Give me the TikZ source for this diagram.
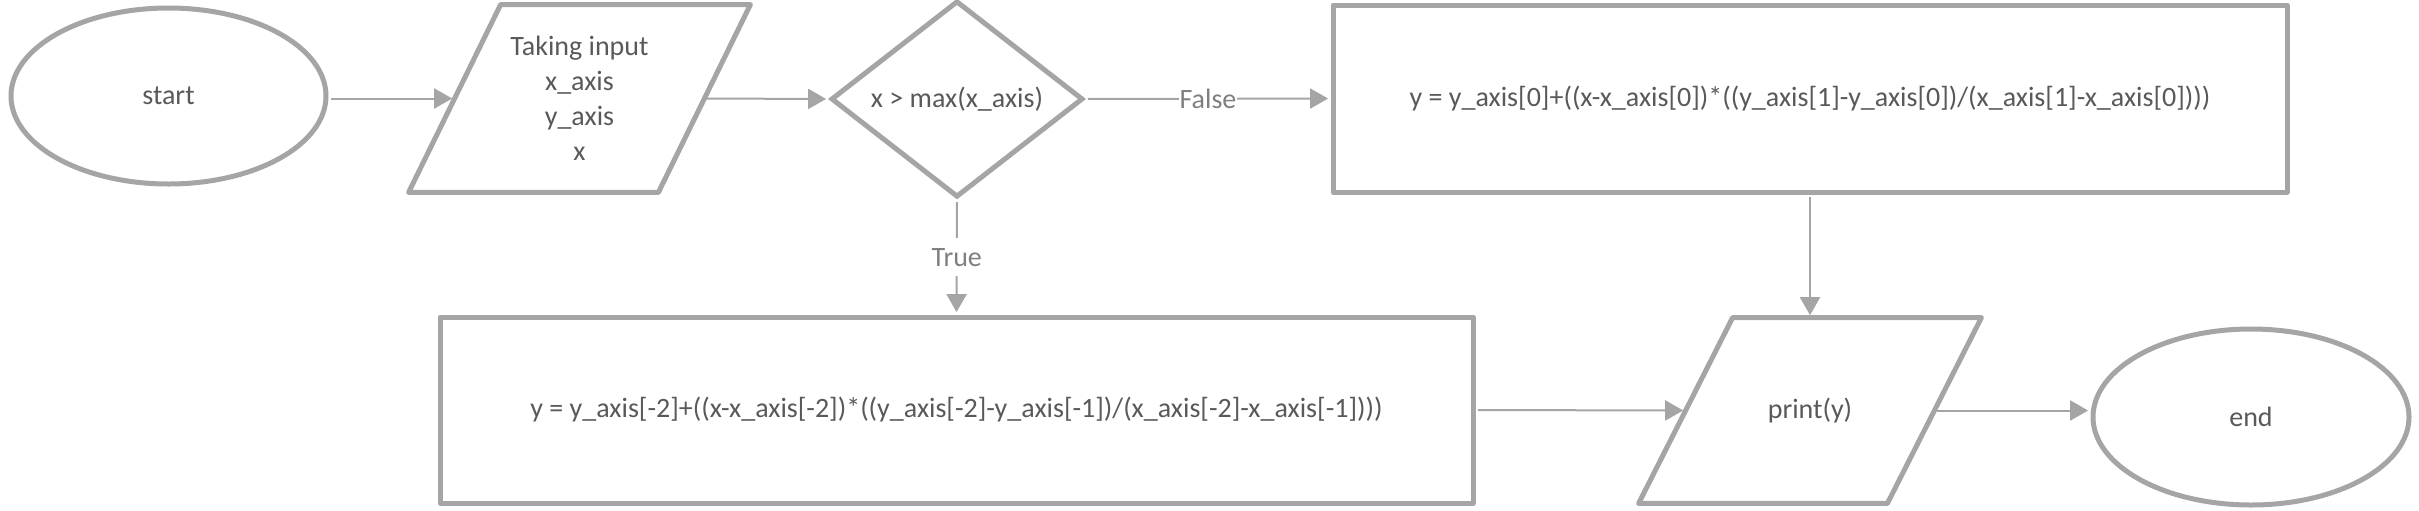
\documentclass[tikz,border=0pt]{standalone}
\usepackage{fontspec}
\setmainfont{Carlito}
\usetikzlibrary{shapes.geometric,arrows.meta,calc}
\definecolor{shp}{HTML}{A5A5A5}
\definecolor{txt}{HTML}{595959}
\definecolor{lbl}{HTML}{7F7F7F}
\begin{document}
\begin{tikzpicture}[x=0.5pt,y=-0.5pt,
  font=\fontsize{14pt}{17.5pt}\selectfont, text=txt,
  shp/.style={draw=shp, line width=2.5pt, fill=white, inner sep=0pt},
  outline/.style={draw=shp, line width=2.5pt, line join=round},
  term/.style={shp, ellipse, minimum width=157.5pt, minimum height=88pt},
  decis/.style={shp, diamond, minimum width=126pt, minimum height=93pt},
  procbox/.style={shp, rectangle, line join=round},
  iobox/.style={inner sep=0pt, align=center},
  conn/.style={draw=shp, line width=1pt, shorten >=1.2pt, shorten <=1.2pt, -{Triangle[length=9pt,width=10pt]}},
  lab/.style={fill=white, text=lbl, inner xsep=0.5pt, inner ysep=5pt}]
\useasboundingbox (0,0) rectangle (2419,510);

% start
\node[term] (start) at (168.5,96) {start};

% input parallelogram
\node[iobox, minimum width=170.5pt, minimum height=93.5pt] (in) at (579.5,98.5) {};
\draw[outline] ($(in.north west)+(92,0)$) -- (in.north east) -- ($(in.south east)-(92,0)$) -- (in.south west) -- cycle;
\node[iobox] (intext) at (in.center) {Taking input\\x\_axis\\y\_axis\\x};
\coordinate (inW) at ($(in.west)+(46,0)$);
\coordinate (inE) at ($(in.east)-(46,0)$);

% decision
\node[decis] (dia) at (957,99) {x > max(x\_axis)};

% upper process
\node[procbox, minimum width=477pt, minimum height=93.5pt] (upper) at (1810,98.5)
  {y = y\_axis[0]+((x-x\_axis[0])*((y\_axis[1]-y\_axis[0])/(x\_axis[1]-x\_axis[0])))};

% lower process
\node[procbox, minimum width=516.5pt, minimum height=93pt] (lower) at (956.5,410)
  {y = y\_axis[-2]+((x-x\_axis[-2])*((y\_axis[-2]-y\_axis[-1])/(x\_axis[-2]-x\_axis[-1])))};

% print parallelogram
\node[iobox, minimum width=171pt, minimum height=92.5pt] (pr) at (1810,410.5) {};
\draw[outline] ($(pr.north west)+(94,0)$) -- (pr.north east) -- ($(pr.south east)-(94,0)$) -- (pr.south west) -- cycle;
\node[iobox] (prtext) at (pr.center) {print(y)};
\coordinate (prW) at ($(pr.west)+(47,0)$);
\coordinate (prE) at ($(pr.east)-(47,0)$);

% end
\node[term, minimum width=158pt] (end) at (2251,417) {end};

% connectors
\draw[conn] (start.east |- inW) -- (inW);
\draw[conn] (inE) -- (dia.west);
\draw[conn] (dia.east) -- node[lab]{False} (upper.west);
\draw[conn] (dia.south) -- node[lab]{True} (lower.north);
\draw[conn] (upper.south) -- (pr.north);
\draw[conn] (lower.east) -- (prW);
\draw[conn] (prE) -- (prE -| end.west);
\end{tikzpicture}
\end{document}
